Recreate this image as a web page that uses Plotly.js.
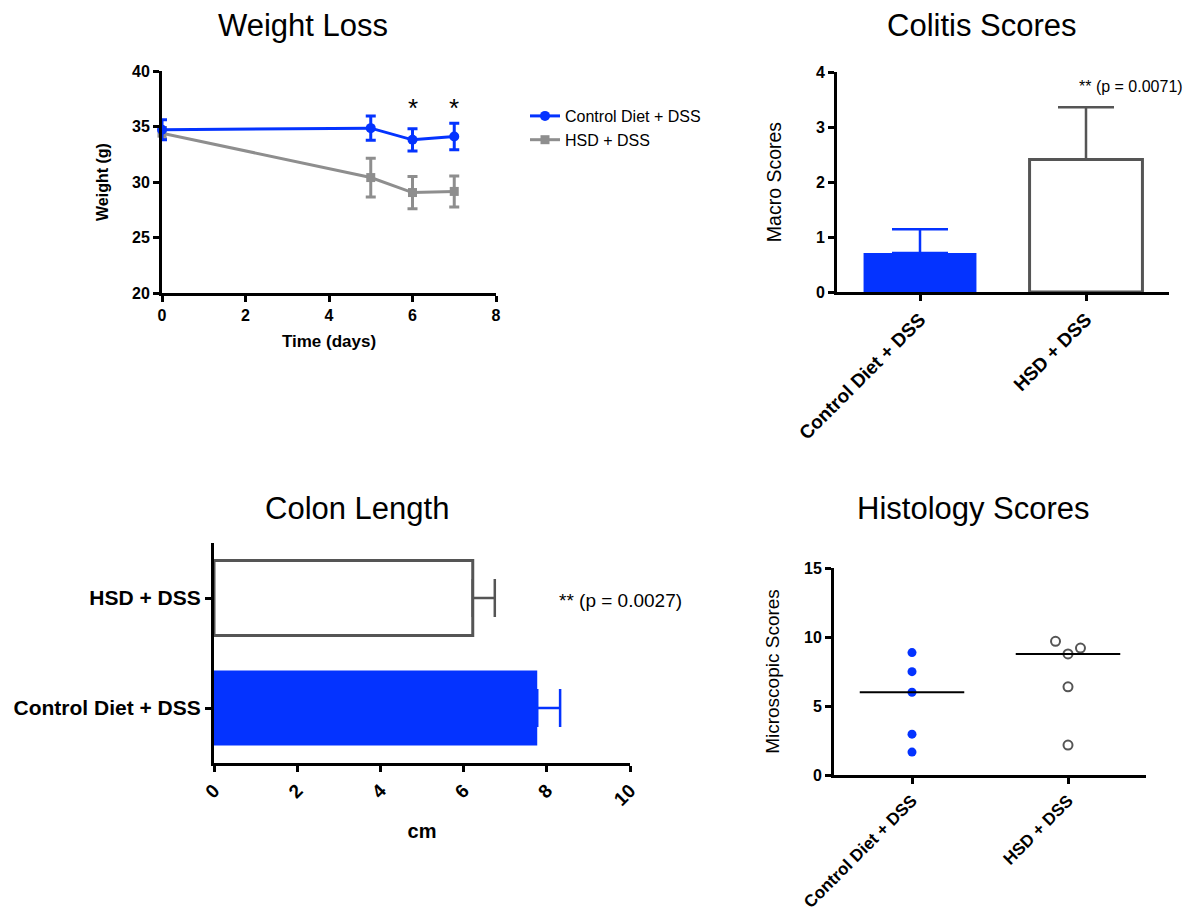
<!DOCTYPE html>
<html>
<head>
<meta charset="utf-8">
<script src="https://cdn.plot.ly/plotly-3.0.1.min.js"></script>
<style>html,body{margin:0;padding:0;background:#fff;}#chart{width:1186px;height:915px;}</style>
</head>
<body>
<div id="chart"></div>
<script>
// ---------- data ----------
const groups = ["Control Diet + DSS", "HSD + DSS"];

// Weight Loss
const wlDays = [0, 5, 6, 7];
const wlControl = [34.7, 34.85, 33.8, 34.1];
const wlControlErr = [0.9, 1.1, 1.0, 1.2];
const wlHSD = [34.4, 30.4, 29.05, 29.15];
const wlHSDErr = [0.5, 1.75, 1.45, 1.4];
const wlStarDays = [6, 7];
const wlStarY = [36.7, 36.7];

// Colitis Scores
const colitisMean = [0.71, 2.41];
const colitisSEM = [0.43, 0.95];

// Colon Length
const colonMean = [7.77, 6.22];
const colonSEM = [0.55, 0.53];

// Histology Scores
const histoControl = [8.87, 7.49, 6.0, 2.96, 1.66];
const histoHSD = [9.69, 9.2, 8.77, 6.39, 2.17];
const histoHSDJitter = [-0.08, 0.08, 0, 0, 0];
const histoMedian = [6.0, 8.77];

// ---------- style ----------
const BLUE = "#0433FF";
const GRAY = "#8E8E8E";
const DARK = "#555555";
const FONT = "Liberation Sans, Arial, Helvetica, sans-serif";
const W = 1186, H = 915;
const px = v => v / W;
const py = v => 1 - v / H;

function axisBase(extra) {
  return Object.assign({
    showline: true, linewidth: 3, linecolor: "#000",
    ticks: "outside", ticklen: 6, tickwidth: 3, tickcolor: "#000",
    showgrid: false, zeroline: false, fixedrange: true,
    tickfont: {family: FONT, size: 16, color: "#000", weight: "bold"}
  }, extra);
}

const traces = [];

// Weight loss (gray first so blue sits on top)
traces.push({
  type: "scatter", mode: "lines+markers", name: "HSD + DSS",
  x: wlDays, y: wlHSD, xaxis: "x", yaxis: "y", legendrank: 2, cliponaxis: false,
  line: {color: GRAY, width: 3}, marker: {symbol: "square", size: 9, color: GRAY},
  error_y: {type: "data", array: wlHSDErr, visible: true, color: GRAY, thickness: 3, width: 5}
});
traces.push({
  type: "scatter", mode: "lines+markers", name: "Control Diet + DSS",
  x: wlDays, y: wlControl, xaxis: "x", yaxis: "y", legendrank: 1, cliponaxis: false,
  line: {color: BLUE, width: 3}, marker: {symbol: "circle", size: 10, color: BLUE},
  error_y: {type: "data", array: wlControlErr, visible: true, color: BLUE, thickness: 3, width: 5}
});

// Colitis bars
traces.push({
  type: "bar", x: [groups[0]], y: [colitisMean[0]], xaxis: "x2", yaxis: "y2", width: 0.68,
  showlegend: false, marker: {color: BLUE, line: {width: 0}},
  error_y: {type: "data", symmetric: false, array: [colitisSEM[0]], arrayminus: [0], color: BLUE, thickness: 2.5, width: 28}
});
traces.push({
  type: "bar", x: [groups[1]], y: [colitisMean[1]], xaxis: "x2", yaxis: "y2", width: 0.68,
  showlegend: false, marker: {color: "#fff", line: {color: DARK, width: 3}},
  error_y: {type: "data", symmetric: false, array: [colitisSEM[1]], arrayminus: [0], color: DARK, thickness: 2.5, width: 28}
});

// Colon length bars (horizontal)
traces.push({
  type: "bar", orientation: "h", y: [groups[0]], x: [colonMean[0]], xaxis: "x3", yaxis: "y3", width: 0.68,
  showlegend: false, marker: {color: BLUE, line: {width: 0}},
  error_x: {type: "data", symmetric: false, array: [colonSEM[0]], arrayminus: [0], color: BLUE, thickness: 2.5, width: 19}
});
traces.push({
  type: "bar", orientation: "h", y: [groups[1]], x: [colonMean[1]], xaxis: "x3", yaxis: "y3", width: 0.68,
  showlegend: false, marker: {color: "#fff", line: {color: DARK, width: 3}},
  error_x: {type: "data", symmetric: false, array: [colonSEM[1]], arrayminus: [0], color: DARK, thickness: 2.5, width: 19}
});

// Histology
traces.push({
  type: "scatter", mode: "markers", x: histoControl.map(() => 0), y: histoControl,
  xaxis: "x4", yaxis: "y4", showlegend: false,
  marker: {symbol: "circle", size: 9, color: BLUE}
});
traces.push({
  type: "scatter", mode: "markers", x: histoHSD.map((v, i) => 1 + histoHSDJitter[i]), y: histoHSD,
  xaxis: "x4", yaxis: "y4", showlegend: false,
  marker: {symbol: "circle-open", size: 9, color: DARK, line: {width: 2, color: DARK}}
});
histoMedian.forEach((m, i) => {
  traces.push({
    type: "scatter", mode: "lines", x: [i - 0.335, i + 0.335], y: [m, m],
    xaxis: "x4", yaxis: "y4", showlegend: false, line: {color: "#000", width: 2}
  });
});

const titleFont = {family: FONT, size: 31, color: "#000"};
const annotations = [
  {text: "Weight Loss", x: px(303), y: py(25), xref: "paper", yref: "paper", showarrow: false, font: titleFont, xanchor: "center", yanchor: "middle"},
  {text: "Colitis Scores", x: px(982), y: py(25), xref: "paper", yref: "paper", showarrow: false, font: titleFont, xanchor: "center", yanchor: "middle"},
  {text: "Colon Length", x: px(357), y: py(508), xref: "paper", yref: "paper", showarrow: false, font: titleFont, xanchor: "center", yanchor: "middle"},
  {text: "Histology Scores", x: px(973), y: py(508), xref: "paper", yref: "paper", showarrow: false, font: titleFont, xanchor: "center", yanchor: "middle"},
  {text: "** (p = 0.0071)", x: px(1131), y: py(86), xref: "paper", yref: "paper", showarrow: false, font: {family: FONT, size: 16, color: "#000"}, xanchor: "center", yanchor: "middle"},
  {text: "** (p = 0.0027)", x: px(620), y: py(600), xref: "paper", yref: "paper", showarrow: false, font: {family: FONT, size: 19, color: "#000"}, xanchor: "center", yanchor: "middle"}
];
wlStarDays.forEach((d, i) => annotations.push({
  text: "*", x: d, y: wlStarY[i], xref: "x", yref: "y", showarrow: false,
  font: {family: FONT, size: 26, color: "#000"}, xanchor: "center", yanchor: "middle"
}));

const layout = {
  width: W, height: H,
  margin: {l: 0, r: 0, t: 0, b: 0},
  paper_bgcolor: "#fff", plot_bgcolor: "rgba(0,0,0,0)",
  font: {family: FONT, color: "#000"},
  barmode: "overlay",
  showlegend: true,
  legend: {x: px(525), y: py(99), xanchor: "left", yanchor: "top", bgcolor: "rgba(0,0,0,0)",
           font: {family: FONT, size: 16, color: "#000"}, itemwidth: 30, tracegroupgap: 0},
  xaxis: axisBase({domain: [px(162), px(496)], anchor: "y", range: [0, 8], tickvals: [0, 2, 4, 6, 8],
    title: {text: "Time (days)", font: {family: FONT, size: 17, weight: "bold", color: "#000"}, standoff: 12}}),
  yaxis: axisBase({domain: [py(293), py(71)], anchor: "x", range: [20, 40], tickvals: [20, 25, 30, 35, 40],
    title: {text: "Weight (g)", font: {family: FONT, size: 16, weight: "bold", color: "#000"}, standoff: 20}}),
  xaxis2: axisBase({domain: [px(837), px(1169)], anchor: "y2", type: "category", range: [-0.5, 1.5],
    categoryorder: "array", categoryarray: groups, tickangle: -45,
    tickfont: {family: FONT, size: 19, color: "#000", weight: "bold"}}),
  yaxis2: axisBase({domain: [py(292), py(72)], anchor: "x2", range: [0, 4], tickvals: [0, 1, 2, 3, 4],
    title: {text: "Macro Scores", font: {family: FONT, size: 19.5, color: "#000"}, standoff: 30}}),
  xaxis3: axisBase({domain: [px(214), px(630)], anchor: "y3", range: [0, 10], tickvals: [0, 2, 4, 6, 8, 10], tickangle: -45,
    tickfont: {family: FONT, size: 19, color: "#000", weight: "bold"},
    title: {text: "cm", font: {family: FONT, size: 20, weight: "bold", color: "#000"}, standoff: 16}}),
  yaxis3: axisBase({domain: [py(763), py(543)], anchor: "x3", type: "category", range: [-0.5, 1.5],
    categoryorder: "array", categoryarray: groups,
    tickfont: {family: FONT, size: 21, color: "#000", weight: "bold"}}),
  xaxis4: axisBase({domain: [px(834), px(1146)], anchor: "y4", range: [-0.5, 1.5], tickvals: [0, 1], ticktext: groups, tickangle: -45,
    tickfont: {family: FONT, size: 17, color: "#000", weight: "bold"}}),
  yaxis4: axisBase({domain: [py(775), py(568)], anchor: "x4", range: [0, 15], tickvals: [0, 5, 10, 15],
    title: {text: "Microscopic Scores", font: {family: FONT, size: 19, color: "#000"}, standoff: 20}}),
  annotations: annotations
};

Plotly.newPlot("chart", traces, layout, {displayModeBar: false, staticPlot: true});
</script>
</body>
</html>
